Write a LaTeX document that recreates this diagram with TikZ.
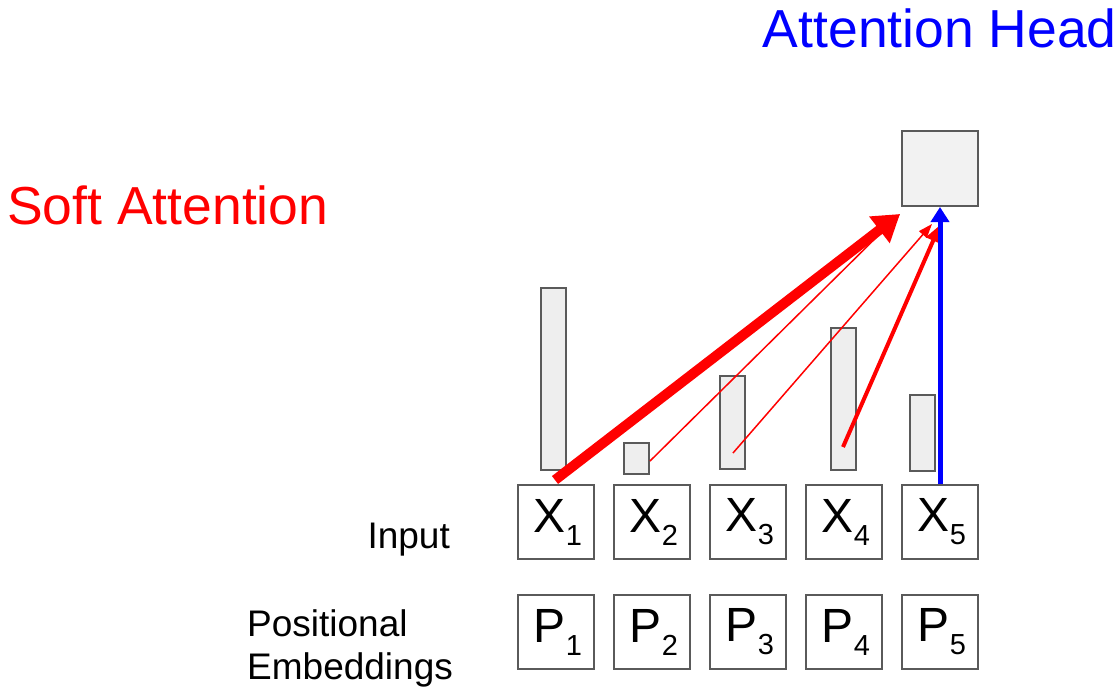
\documentclass[tikz,border=0pt]{standalone}
\usepackage{fontspec}
\setmainfont{Liberation Sans}
\usepackage{xcolor}
\usetikzlibrary{arrows.meta,positioning}
\definecolor{boxline}{HTML}{5A5A5A}
\definecolor{barfill}{HTML}{EEEEEE}
\definecolor{headfill}{HTML}{F2F2F2}
\newcommand{\tok}[2]{\hspace{4pt}#1\raisebox{-13pt}{\fontsize{29}{29}\selectfont #2}}
\tikzset{
    tokbox/.style={draw=boxline, line width=2pt, minimum width=76pt, minimum height=74pt, inner sep=0pt, font=\fontsize{48}{48}\selectfont},
    barbox/.style={draw=boxline, fill=barfill, line width=2pt, minimum width=25pt, inner sep=0pt},
    headbox/.style={draw=boxline, fill=headfill, line width=2pt, minimum width=76pt, minimum height=75pt, inner sep=0pt},
    rowlabel/.style={font=\fontsize{37}{43}\selectfont, inner sep=0pt, align=left},
    titletext/.style={font=\fontsize{53.5}{54}\selectfont, inner sep=0pt},
    strongarrow/.style={red, line width=10pt, -{Triangle[length=26pt,width=32pt]}},
    midarrow/.style={red, line width=4pt, -{Triangle[length=17pt,width=15pt]}},
    weakarrow/.style={red, line width=1.5pt, -{Triangle[length=14pt,width=10pt]}},
    headarrow/.style={blue, line width=5pt, -{Triangle[length=15pt,width=18pt]}}
}
\begin{document}
\begin{tikzpicture}[x=1pt, y=-1pt, node distance=18pt and 18pt]
    \useasboundingbox (0,0) rectangle (1119,689);

    % tokens
    \node[tokbox] (x1) at (556,522) {\tok{X}{1}};
    \node[tokbox, right=of x1] (x2) {\tok{X}{2}};
    \node[tokbox, right=of x2] (x3) {\tok{X}{3}};
    \node[tokbox, right=of x3] (x4) {\tok{X}{4}};
    \node[tokbox, right=of x4] (x5) {\tok{X}{5}};
    \node[tokbox, below=34pt of x1] (p1) {\tok{P}{1}};
    \node[tokbox, right=of p1] (p2) {\tok{P}{2}};
    \node[tokbox, right=of p2] (p3) {\tok{P}{3}};
    \node[tokbox, right=of p3] (p4) {\tok{P}{4}};
    \node[tokbox, right=of p4] (p5) {\tok{P}{5}};

    % attention weights
    \node[barbox, minimum height=182pt] (bar1) at (553.5,379) {};
    \node[barbox, minimum height=31pt] (bar2) at (636.5,458.5) {};
    \node[barbox, minimum height=93pt] (bar3) at (732.5,422.5) {};
    \node[barbox, minimum height=142pt] (bar4) at (843,399) {};
    \node[barbox, minimum height=76pt] (bar5) at (922.5,433) {};

    \node[headbox] (head) at (940,168.5) {};

    % labels
    \node[rowlabel, anchor=base east] (inputlbl) at (450,548) {Input};
    \node[rowlabel, anchor=north west] (poslbl) at (247,609) {Positional\\Embeddings};
    \node[titletext, text=red, anchor=base west] (softlbl) at (7,224) {Soft Attention};
    \node[titletext, text=blue, anchor=base east] (headlbl) at (1117,47) {Attention Head};

    \coordinate (s1) at (555,480);
    \coordinate (s2) at (650,461);
    \coordinate (s3) at (733,453);
    \coordinate (s4) at (843,447);
    \coordinate (t1) at (900,214);
    \coordinate (t3) at (932,224);
    \coordinate (t4) at (940,225);

    \draw[weakarrow] (s2) -- (t1);
    \draw[weakarrow] (s3) -- (t3);
    \draw[midarrow] (s4) -- (t4);
    \draw[strongarrow] (s1) -- (t1);
    \draw[headarrow] (x5.north) -- (head.south);
\end{tikzpicture}
\end{document}
